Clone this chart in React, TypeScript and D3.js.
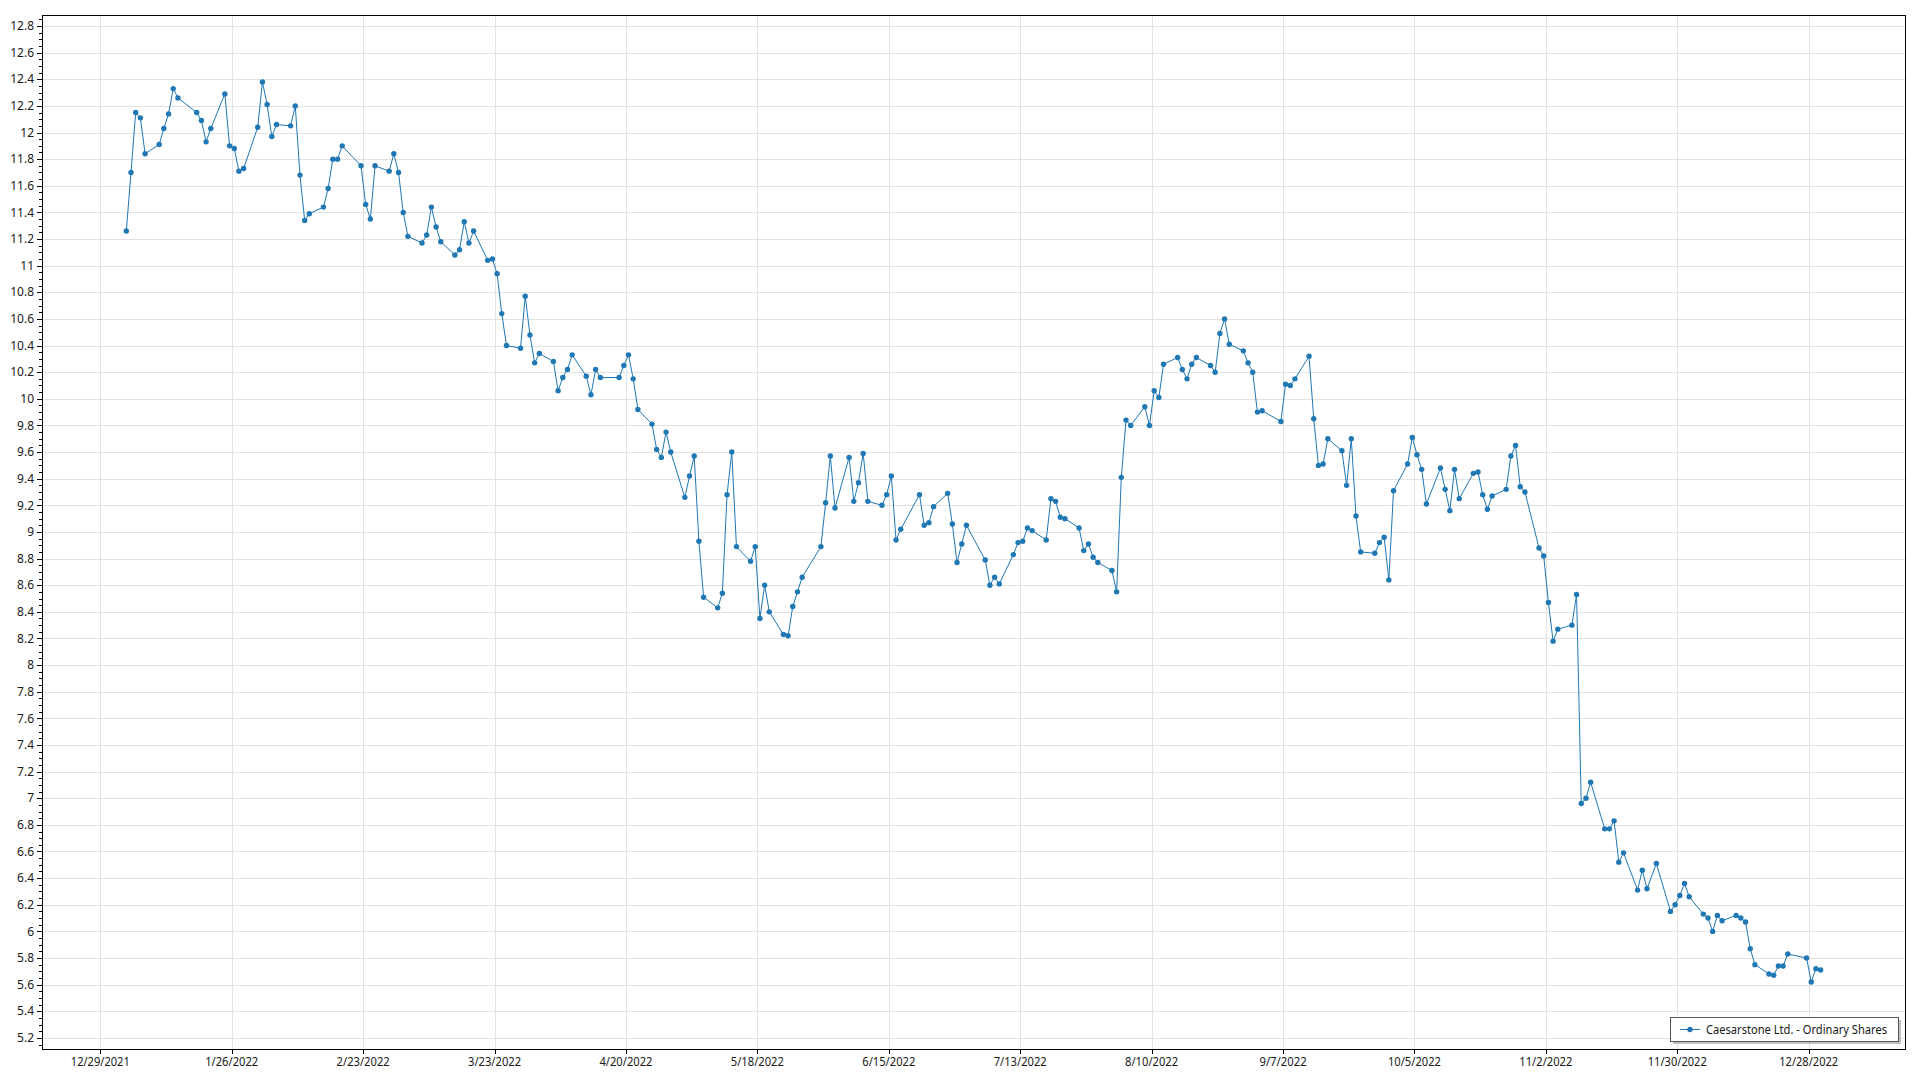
import React from "react";
import * as d3 from "d3";

const seriesName = "Caesarstone Ltd. - Ordinary Shares";

const tradeDates = [
  "01-03","01-04","01-05","01-06","01-07","01-10","01-11","01-12","01-13","01-14","01-18","01-19","01-20","01-21","01-24","01-25","01-26","01-27","01-28","01-31",
  "02-01","02-02","02-03","02-04","02-07","02-08","02-09","02-10","02-11","02-14","02-15","02-16","02-17","02-18","02-22","02-23","02-24","02-25","02-28",
  "03-01","03-02","03-03","03-04","03-07","03-08","03-09","03-10","03-11","03-14","03-15","03-16","03-17","03-18","03-21","03-22","03-23","03-24","03-25","03-28","03-29","03-30","03-31",
  "04-01","04-04","04-05","04-06","04-07","04-08","04-11","04-12","04-13","04-14","04-18","04-19","04-20","04-21","04-22","04-25","04-26","04-27","04-28","04-29",
  "05-02","05-03","05-04","05-05","05-06","05-09","05-10","05-11","05-12","05-13","05-16","05-17","05-18","05-19","05-20","05-23","05-24","05-25","05-26","05-27","05-31",
  "06-01","06-02","06-03","06-06","06-07","06-08","06-09","06-10","06-13","06-14","06-15","06-16","06-17","06-21","06-22","06-23","06-24","06-27","06-28","06-29","06-30",
  "07-01","07-05","07-06","07-07","07-08","07-11","07-12","07-13","07-14","07-15","07-18","07-19","07-20","07-21","07-22","07-25","07-26","07-27","07-28","07-29",
  "08-01","08-02","08-03","08-04","08-05","08-08","08-09","08-10","08-11","08-12","08-15","08-16","08-17","08-18","08-19","08-22","08-23","08-24","08-25","08-26","08-29","08-30","08-31",
  "09-01","09-02","09-06","09-07","09-08","09-09","09-12","09-13","09-14","09-15","09-16","09-19","09-20","09-21","09-22","09-23","09-26","09-27","09-28","09-29","09-30",
  "10-03","10-04","10-05","10-06","10-07","10-10","10-11","10-12","10-13","10-14","10-17","10-18","10-19","10-20","10-21","10-24","10-25","10-26","10-27","10-28","10-31",
  "11-01","11-02","11-03","11-04","11-07","11-08","11-09","11-10","11-11","11-14","11-15","11-16","11-17","11-18","11-21","11-22","11-23","11-25","11-28","11-29","11-30",
  "12-01","12-02","12-05","12-06","12-07","12-08","12-09","12-12","12-13","12-14","12-15","12-16","12-19","12-20","12-21","12-22","12-23","12-27","12-28","12-29","12-30",
];

const closePrices = [
  11.26,11.70,12.15,12.11,11.84,11.91,12.03,12.14,12.33,12.26,12.15,12.09,11.93,12.03,12.29,11.90,11.88,11.71,11.73,12.04,
  12.38,12.21,11.97,12.06,12.05,12.20,11.68,11.34,11.39,11.44,11.58,11.80,11.80,11.90,11.75,11.46,11.35,11.75,11.71,
  11.84,11.70,11.40,11.22,11.17,11.23,11.44,11.29,11.18,11.08,11.12,11.33,11.17,11.26,11.04,11.05,10.94,10.64,10.40,10.38,10.77,10.48,10.27,
  10.34,10.28,10.06,10.16,10.22,10.33,10.17,10.03,10.22,10.16,10.16,10.25,10.33,10.15,9.92,9.81,9.62,9.56,9.75,9.60,
  9.26,9.42,9.57,8.93,8.51,8.43,8.54,9.28,9.60,8.89,8.78,8.89,8.35,8.60,8.40,8.23,8.22,8.44,8.55,8.66,8.89,
  9.22,9.57,9.18,9.56,9.23,9.37,9.59,9.23,9.20,9.28,9.42,8.94,9.02,9.28,9.05,9.07,9.19,9.29,9.06,8.77,8.91,
  9.05,8.79,8.60,8.66,8.61,8.83,8.92,8.93,9.03,9.01,8.94,9.25,9.23,9.11,9.10,9.03,8.86,8.91,8.81,8.77,
  8.71,8.55,9.41,9.84,9.80,9.94,9.80,10.06,10.01,10.26,10.31,10.22,10.15,10.26,10.31,10.25,10.20,10.49,10.60,10.41,10.36,10.27,10.20,
  9.90,9.91,9.83,10.11,10.10,10.15,10.32,9.85,9.50,9.51,9.70,9.61,9.35,9.70,9.12,8.85,8.84,8.92,8.96,8.64,9.31,
  9.51,9.71,9.58,9.47,9.21,9.48,9.32,9.16,9.47,9.25,9.44,9.45,9.28,9.17,9.27,9.32,9.57,9.65,9.34,9.30,8.88,
  8.82,8.47,8.18,8.27,8.30,8.53,6.96,7.00,7.12,6.77,6.77,6.83,6.52,6.59,6.31,6.46,6.32,6.51,6.15,6.20,6.27,
  6.36,6.26,6.13,6.10,6.00,6.12,6.08,6.12,6.10,6.07,5.87,5.75,5.68,5.67,5.74,5.74,5.83,5.80,5.62,5.72,5.71,
];

const xTickDates = [
  "2021-12-29","2022-01-26","2022-02-23","2022-03-23","2022-04-20","2022-05-18","2022-06-15",
  "2022-07-13","2022-08-10","2022-09-07","2022-10-05","2022-11-02","2022-11-30","2022-12-28",
];
const xTickLabels = [
  "12/29/2021","1/26/2022","2/23/2022","3/23/2022","4/20/2022","5/18/2022","6/15/2022",
  "7/13/2022","8/10/2022","9/7/2022","10/5/2022","11/2/2022","11/30/2022","12/28/2022",
];
const yTicks = [
  5.2,5.4,5.6,5.8,6,6.2,6.4,6.6,6.8,7,7.2,7.4,7.6,7.8,8,8.2,8.4,8.6,8.8,9,9.2,9.4,9.6,9.8,
  10,10.2,10.4,10.6,10.8,11,11.2,11.4,11.6,11.8,12,12.2,12.4,12.6,12.8,
];

function parseYMD(s: string, hour = 0) {
  const [y, m, d] = s.split("-").map(Number);
  return new Date(y, m - 1, d, hour);
}

export default function App() {
  const W = 1920, H = 1080;
  const plotL = 42, plotR = 1905, plotT = 15, plotB = 1049;
  const FONT = "'Segoe UI', 'Noto Sans', 'DejaVu Sans', sans-serif";
  const color = "#1f77b4";

  const x = d3.scaleTime()
    .domain([parseYMD(xTickDates[0]), parseYMD(xTickDates[xTickDates.length - 1])])
    .range([100.3, 1808.7]);
  const y = d3.scaleLinear().domain([5.2, 12.8]).range([1037.9, 26]);

  const data = tradeDates.map((md, i) => ({
    date: parseYMD("2022-" + md, 13),
    value: closePrices[i],
  }));

  const line = d3.line<{ date: Date; value: number }>()
    .x((d) => x(d.date))
    .y((d) => y(d.value));

  const minorTicks: number[] = [];
  yTicks.forEach((t, i) => {
    if (i < yTicks.length - 1) {
      for (let k = 1; k < 4; k++) minorTicks.push(t + k * 0.05);
    }
  });
  minorTicks.push(12.85);
  minorTicks.unshift(5.15);

  const fmt = (v: number) => String(+v.toFixed(1));

  return (
    <svg
      width={W}
      height={H}
      style={{ position: "absolute", left: 0, top: 0, background: "#fff" }}
      fontFamily={FONT}
    >
      <rect x={0} y={0} width={W} height={H} fill="#fff" />
      {/* grid */}
      <g stroke="#e2e2e2" strokeWidth={1} shapeRendering="crispEdges">
        {yTicks.map((t) => (
          <line key={"gy" + t} x1={plotL} x2={plotR} y1={Math.round(y(t)) + 0.5} y2={Math.round(y(t)) + 0.5} />
        ))}
        {xTickDates.map((s) => {
          const px = Math.round(x(parseYMD(s))) + 0.5;
          return <line key={"gx" + s} x1={px} x2={px} y1={plotT} y2={plotB} />;
        })}
      </g>
      {/* series */}
      <path d={line(data) || ""} fill="none" stroke={color} strokeWidth={1} />
      <g fill={color}>
        {data.map((d, i) => (
          <circle key={i} cx={x(d.date)} cy={y(d.value)} r={2.7} />
        ))}
      </g>
      {/* frame */}
      <rect
        x={plotL + 0.5}
        y={plotT + 0.5}
        width={plotR - plotL}
        height={plotB - plotT}
        fill="none"
        stroke="#000"
        strokeWidth={1}
        shapeRendering="crispEdges"
      />
      {/* axis ticks */}
      <g stroke="#000" strokeWidth={1} shapeRendering="crispEdges">
        {yTicks.map((t) => (
          <line key={"ty" + t} x1={plotL - 5} x2={plotL} y1={Math.round(y(t)) + 0.5} y2={Math.round(y(t)) + 0.5} />
        ))}
        {minorTicks.map((t, i) => (
          <line key={"my" + i} x1={plotL - 3} x2={plotL} y1={Math.round(y(t)) + 0.5} y2={Math.round(y(t)) + 0.5} />
        ))}
        {xTickDates.map((s) => {
          const px = Math.round(x(parseYMD(s))) + 0.5;
          return <line key={"tx" + s} x1={px} x2={px} y1={plotB} y2={plotB + 5} />;
        })}
      </g>
      <g fontSize={12} fill="#1a1a1a" textAnchor="end">
        {yTicks.map((t) => (
          <text key={"ly" + t} x={plotL - 8} y={y(t)} dy="0.35em">
            {fmt(t)}
          </text>
        ))}
      </g>
      <g fontSize={12} fill="#1a1a1a" textAnchor="middle">
        {xTickDates.map((s, i) => (
          <text key={"lx" + s} x={x(parseYMD(s))} y={1066} textLength={xTickLabels[i].length * 5.9} lengthAdjust="spacingAndGlyphs">
            {xTickLabels[i]}
          </text>
        ))}
      </g>
      {/* legend */}
      <g>
        <rect x={1673} y={1020} width={228} height={24} fill="#9a9a9a" opacity={0.6} />
        <rect x={1670.5} y={1017.5} width={228} height={24} fill="#fff" stroke="#555" strokeWidth={1} shapeRendering="crispEdges" />
        <line x1={1680} x2={1700} y1={1029.5} y2={1029.5} stroke={color} strokeWidth={1} />
        <circle cx={1690} cy={1029.5} r={2.7} fill={color} />
        <text x={1706} y={1033.5} fontSize={12} fill="#1a1a1a" textLength={181} lengthAdjust="spacingAndGlyphs">
          {seriesName}
        </text>
      </g>
    </svg>
  );
}
